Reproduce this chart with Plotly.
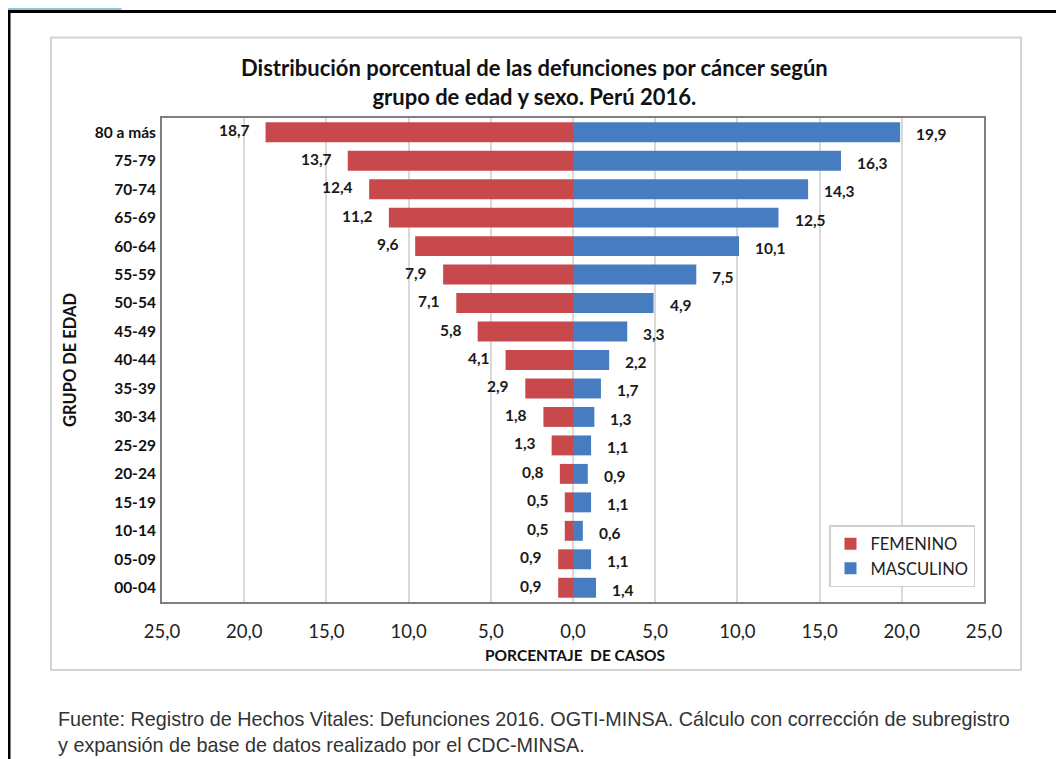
import plotly.graph_objects as go

# ---- data ----
grupos = ["80 a más", "75-79", "70-74", "65-69", "60-64", "55-59", "50-54", "45-49",
          "40-44", "35-39", "30-34", "25-29", "20-24", "15-19", "10-14", "05-09", "00-04"]
femenino = [18.7, 13.7, 12.4, 11.2, 9.6, 7.9, 7.1, 5.8, 4.1, 2.9, 1.8, 1.3, 0.8, 0.5, 0.5, 0.9, 0.9]
masculino = [19.9, 16.3, 14.3, 12.5, 10.1, 7.5, 4.9, 3.3, 2.2, 1.7, 1.3, 1.1, 0.9, 1.1, 0.6, 1.1, 1.4]
tick_vals = [-25, -20, -15, -10, -5, 0, 5, 10, 15, 20, 25]

RED = "#C8494B"
BLUE = "#477CC0"
FONT = "Lato"

def fmt(v):
    return f"{abs(v):.1f}".replace(".", ",")

# page offset (browser body margin)
OX, OY = 8, 8
W, H = 1064 - OX, 759 - OY
# plot area in page pixels: x 162..984, y 118..602
L = 162 - OX
T = 118 - OY
R = W - (984 - OX)
B = H - (602 - OY)
PW, PH = W - L - R, H - T - B

def px(x):  # page px -> paper
    return (x - OX - L) / PW

def py(y):
    return (H - B - (y - OY)) / PH

fig = go.Figure()
fig.add_trace(go.Bar(
    y=grupos, x=[-v for v in femenino], orientation="h", name="FEMENINO",
    marker=dict(color=RED, line=dict(width=0)), hoverinfo="skip"))
fig.add_trace(go.Bar(
    y=grupos, x=masculino, orientation="h", name="MASCULINO",
    marker=dict(color=BLUE, line=dict(width=0)), hoverinfo="skip"))

lab_font = dict(family=FONT, size=15.5, color="#1a1a1a", weight="bold")
annotations = []
for g, v in zip(grupos, femenino):
    annotations.append(dict(x=-v, y=g, xref="x", yref="y", text=fmt(v), showarrow=False,
                            xanchor="right", yanchor="middle", xshift=-14, yshift=2,
                            font=lab_font))
for g, v in zip(grupos, masculino):
    annotations.append(dict(x=v, y=g, xref="x", yref="y", text=fmt(v), showarrow=False,
                            xanchor="left", yanchor="middle", xshift=14, yshift=-2,
                            font=lab_font))

# title
annotations.append(dict(
    x=px(534), y=py(82), xref="paper", yref="paper", xanchor="center", yanchor="middle",
    text="Distribución porcentual de las defunciones por cáncer según<br>grupo de edad y sexo. Perú 2016.",
    showarrow=False, font=dict(family=FONT, size=22, color="#111111", weight="bold")))
# axis titles
annotations.append(dict(
    x=px(575), y=py(655), xref="paper", yref="paper", xanchor="center", yanchor="middle",
    text="PORCENTAJE  DE CASOS", showarrow=False,
    font=dict(family=FONT, size=15.5, color="#111111", weight="bold")))
annotations.append(dict(
    x=px(70), y=py(360), xref="paper", yref="paper", xanchor="center", yanchor="middle",
    text="GRUPO DE EDAD", textangle=-90, showarrow=False,
    font=dict(family=FONT, size=16.5, color="#111111", weight="bold")))
# footer
annotations.append(dict(
    x=px(56), y=py(732), xref="paper", yref="paper", xanchor="left", yanchor="middle", align="left",
    text="Fuente: Registro de Hechos Vitales: Defunciones 2016. OGTI-MINSA. Cálculo con corrección de subregistro<br>y expansión de base de datos realizado por el CDC-MINSA.",
    showarrow=False, font=dict(family="Liberation Sans", size=19.8, color="#333333")))

shapes = [
    # blue decoration (visible part above the frame)
    dict(type="path", xref="paper", yref="paper",
         path=f"M {px(0)},{py(0)} L {px(128)},{py(0)} L {px(120)},{py(11)} L {px(0)},{py(11)} Z",
         fillcolor="#93c3da", line=dict(width=0), layer="above"),
    # black frame
    dict(type="line", xref="paper", yref="paper", x0=px(8), x1=px(1064), y0=py(11.5), y1=py(11.5),
         line=dict(color="#000000", width=3)),
    dict(type="line", xref="paper", yref="paper", x0=px(9), x1=px(9), y0=py(10), y1=py(759),
         line=dict(color="#000000", width=3)),
    # outer gray chart box
    dict(type="rect", xref="paper", yref="paper", x0=px(51), x1=px(1021), y0=py(37.5), y1=py(670),
         line=dict(color="#d4d4d4", width=2), fillcolor="rgba(0,0,0,0)", layer="below"),
]

fig.update_layout(
    width=W, height=H,
    margin=dict(l=L, r=R, t=T, b=B, pad=0),
    paper_bgcolor="white", plot_bgcolor="white",
    barmode="relative", bargap=0.3,
    showlegend=True,
    legend=dict(x=px(975), y=py(587), xanchor="right", yanchor="bottom",
                bgcolor="white", bordercolor="#cfcfcf", borderwidth=1.5,
                font=dict(family=FONT, size=16.5, color="#222222"),
                itemwidth=30),
    annotations=annotations,
    shapes=shapes,
    xaxis=dict(range=[-25, 25], tickvals=tick_vals, ticktext=[fmt(t) for t in tick_vals],
               showgrid=True, gridcolor="#d9d9d9", gridwidth=1.5, zeroline=True,
               zerolinecolor="#d9d9d9", zerolinewidth=1.5,
               showline=True, mirror=True, linecolor="#7f7f7f", linewidth=2,
               ticks="", ticklabelstandoff=12,
               tickfont=dict(family=FONT, size=18.5, color="#222222")),
    yaxis=dict(type="category", categoryorder="array", categoryarray=grupos, autorange="reversed",
               showgrid=False, showline=True, mirror=True, linecolor="#7f7f7f", linewidth=2,
               ticks="", ticklabelstandoff=1,
               tickfont=dict(family=FONT, size=15.5, color="#111111", weight="bold")),
)

fig.write_html("out.html")
